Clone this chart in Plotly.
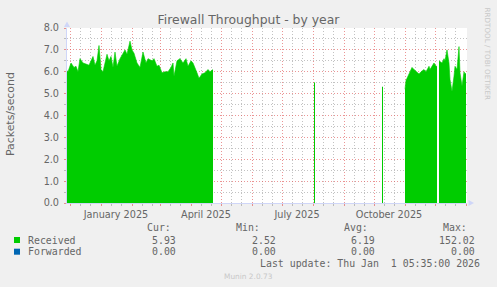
import plotly.graph_objects as go
import pandas as pd

# ---------------- data ----------------
received_dates = [
    "2024-11-27", "2024-11-29", "2024-12-02", "2024-12-05", "2024-12-07", "2024-12-09",
    "2024-12-11", "2024-12-14", "2024-12-17", "2024-12-20", "2024-12-24", "2024-12-26",
    "2024-12-28", "2024-12-30", "2025-01-01", "2025-01-03", "2025-01-07", "2025-01-09",
    "2025-01-11", "2025-01-13", "2025-01-15", "2025-01-17", "2025-01-20", "2025-01-23",
    "2025-01-25", "2025-01-27", "2025-01-30", "2025-02-01", "2025-02-03", "2025-02-06",
    "2025-02-09", "2025-02-12", "2025-02-15", "2025-02-17", "2025-02-21", "2025-02-23",
    "2025-02-26", "2025-02-28", "2025-03-03", "2025-03-06", "2025-03-09", "2025-03-12",
    "2025-03-14", "2025-03-15", "2025-03-18", "2025-03-21", "2025-03-24", "2025-03-27",
    "2025-03-29", "2025-04-01", "2025-04-03", "2025-04-07", "2025-04-09", "2025-04-12",
    "2025-04-15", "2025-04-18", "2025-04-20", "2025-04-23", "2025-04-24",
    "2025-08-02", "2025-08-03", "2025-08-04",
    "2025-10-09", "2025-10-10", "2025-10-11",
    "2025-11-01", "2025-11-02", "2025-11-05", "2025-11-08", "2025-11-10", "2025-11-13",
    "2025-11-15", "2025-11-17", "2025-11-20", "2025-11-22", "2025-11-25", "2025-11-26",
    "2025-11-28", "2025-11-30", "2025-12-02", "2025-12-03", "2025-12-04",
    "2025-12-05", "2025-12-08", "2025-12-10", "2025-12-11", "2025-12-13", "2025-12-15",
    "2025-12-16", "2025-12-18", "2025-12-20", "2025-12-21", "2025-12-23", "2025-12-25",
    "2025-12-26", "2025-12-28", "2025-12-30", "2025-12-31", "2026-01-01",
]
received_values = [
    6.1, 6.0, 6.4, 6.2, 6.25, 6.0,
    6.6, 6.4, 6.35, 6.3, 6.7, 6.3,
    6.5, 7.2, 6.1, 6.0, 6.8, 6.5,
    6.7, 6.2, 6.9, 6.25, 6.6, 6.85,
    7.0, 6.8, 7.4, 7.0, 6.85, 6.4,
    6.2, 6.9, 6.4, 6.6, 6.5, 6.6,
    6.25, 6.3, 5.95, 6.0, 6.0, 6.2,
    6.4, 5.8, 6.5, 6.6, 6.4, 6.6,
    6.25, 6.5, 6.4, 5.95, 5.7, 5.9,
    5.95, 6.1, 6.0, 6.1, None,
    5.5, 5.5, None,
    5.3, 5.3, None,
    5.2, 5.6, 5.9, 6.2, 6.1, 6.0,
    5.9, 6.0, 6.1, 6.0, 6.25, 6.1,
    6.25, 6.4, 6.25, 6.25, None,
    6.5, 6.4, 6.6, 6.5, 7.0, 6.4,
    5.65, 5.1, 5.8, 6.25, 6.1, 7.15,
    5.95, 5.35, 6.0, 5.9, 5.93,
]

series_names = ["Received", "Forwarded"]
series_colors = ["#00CC00", "#0066B3"]
cur_values = ["5.93", "0.00"]
min_values = ["2.52", "0.00"]
avg_values = ["6.19", "0.00"]
max_values = ["152.02", "0.00"]

x_label_dates = ["2025-01-16", "2025-04-16", "2025-07-16", "2025-10-16"]
x_label_text = ["January 2025", "April 2025", "July 2025", "October 2025"]

title_text = "Firewall Throughput - by year"
y_title = "Packets/second"
last_update = "Last update: Thu Jan  1 05:35:00 2026"
footer = "Munin 2.0.73"
side_text = "RRDTOOL / TOBI OETIKER"

x_start, x_end = "2024-11-28 00:00", "2026-01-02 00:00"

# ---------------- layout geometry ----------------
W, H = 497, 287
L, R, T, B = 67, 30, 28, 84
PW, PH = W - L - R, H - T - B

def px(x):
    return (x - L) / PW

def py(y):
    return (H - B - y) / PH

FONT = "DejaVu Sans"
MONO = "DejaVu Sans Mono"
FC = "#666666"
MGRID = "rgba(222,79,79,0.6)"
GRID = "rgba(143,143,143,0.55)"
AXISC = "#CFD6F8"

month_starts = [d.strftime("%Y-%m-%d") for d in pd.date_range("2024-12-01", "2026-01-01", freq="MS")]
minor_days = []
for m in pd.date_range("2024-11-01", "2025-12-01", freq="MS"):
    for off in (10, 20):
        minor_days.append((m + pd.Timedelta(days=off)).strftime("%Y-%m-%d"))

# split the series into its unknown-free segments
segments, cur_x, cur_y = [], [], []
for d, v in zip(received_dates, received_values):
    if v is None:
        if cur_x:
            segments.append((cur_x, cur_y))
        cur_x, cur_y = [], []
    else:
        cur_x.append(d)
        cur_y.append(v)
if cur_x:
    segments.append((cur_x, cur_y))

fig = go.Figure()
for sx, sy in segments:
    fig.add_trace(go.Scatter(
        x=sx, y=sy, mode="lines", fill="tozeroy",
        line=dict(color=series_colors[0], width=0.6), fillcolor=series_colors[0],
        hoverinfo="skip", showlegend=False,
    ))
# dummy trace to attach the label axis
fig.add_trace(go.Scatter(x=[x_label_dates[0]], y=[None], xaxis="x2", yaxis="y",
                         mode="markers", showlegend=False, hoverinfo="skip"))

fig.update_layout(
    width=W, height=H, margin=dict(l=L, r=R, t=T, b=B, autoexpand=False),
    paper_bgcolor="#F0F0F0", plot_bgcolor="#FFFFFF",
    showlegend=False,
    title=dict(text=title_text, x=248.5 / W, xref="container",
               xanchor="center", y=1 - 19.5 / H, yanchor="middle",
               font=dict(family=FONT, size=12.4, color=FC)),
    xaxis=dict(
        type="date", range=[x_start, x_end], tickmode="array", tickvals=month_starts,
        showticklabels=False, ticks="outside", ticklen=2, tickcolor=MGRID,
        showgrid=True, gridcolor=MGRID, griddash="1px,2px", gridwidth=1,
        minor=dict(tickmode="array", tickvals=minor_days, showgrid=True, gridcolor=GRID,
                   griddash="1px,2px", ticks="outside", ticklen=2, tickcolor=GRID),
        showline=True, linecolor=AXISC, linewidth=1, zeroline=False, fixedrange=True,
    ),
    xaxis2=dict(
        type="date", range=[x_start, x_end], overlaying="x", anchor="y", side="bottom",
        tickmode="array", tickvals=x_label_dates, ticktext=x_label_text, ticks="",
        showgrid=False, showline=False, zeroline=False,
        tickfont=dict(family=FONT, size=9.7, color=FC), ticklabelstandoff=4,
    ),
    yaxis=dict(
        range=[0, 8], tickmode="linear", tick0=0, dtick=1, tickformat=".1f",
        tickfont=dict(family=FONT, size=9.7, color=FC),
        ticks="outside", ticklen=2, tickcolor=MGRID,
        showgrid=True, gridcolor=MGRID, griddash="1px,2px", gridwidth=1,
        minor=dict(dtick=0.5, showgrid=True, gridcolor=GRID, griddash="1px,2px",
                   ticks="outside", ticklen=2, tickcolor=GRID),
        showline=True, linecolor=AXISC, linewidth=1, zeroline=False, fixedrange=True,
        ticklabelstandoff=3,
    ),
)

ann = []
ann.append(dict(text=y_title, x=px(10.5), y=py(114.5), xref="paper", yref="paper",
                textangle=-90, showarrow=False, xanchor="center", yanchor="middle",
                font=dict(family=FONT, size=10.9, color=FC)))
ann.append(dict(text=side_text, x=px(487), y=py(53.5), xref="paper", yref="paper",
                textangle=90, showarrow=False, xanchor="center", yanchor="middle",
                font=dict(family=FONT, size=7.2, color="#C8C8C8")))
ann.append(dict(text=footer, x=px(248), y=py(276), xref="paper", yref="paper",
                showarrow=False, xanchor="center", yanchor="middle",
                font=dict(family=FONT, size=7.4, color="#C8C8C8")))

mono = dict(family=MONO, size=9.9, color=FC)
def text_at(s, xr, yc, anchor="right"):
    ann.append(dict(text=s, x=px(xr), y=py(yc), xref="paper", yref="paper",
                    showarrow=False, xanchor=anchor, yanchor="middle", font=mono))

# header row
for s, xr in zip(["Cur:", "Min:", "Avg:", "Max:"], [173, 262, 370, 469]):
    text_at(s, xr, 227)
row_y = [240, 251.7]
val_x = [177.7, 277.7, 377, 476.7]
shapes = []
for i, name in enumerate(series_names):
    text_at(name, 26, row_y[i], anchor="left")
    for col, xr in zip([cur_values, min_values, avg_values, max_values], val_x):
        text_at(col[i], xr, row_y[i])
    shapes.append(dict(type="rect", xref="paper", yref="paper",
                       x0=px(14), x1=px(20), y0=py(row_y[i] + 3), y1=py(row_y[i] - 3),
                       fillcolor=series_colors[i], line=dict(width=0)))
text_at(last_update, 482, 263.3)

# axis arrows
shapes.append(dict(type="path", xref="paper", yref="paper",
                   path=f"M {px(64)} {py(27)} L {px(67)} {py(21.5)} L {px(70)} {py(27)} Z",
                   fillcolor=AXISC, line=dict(width=0)))
shapes.append(dict(type="path", xref="paper", yref="paper",
                   path=f"M {px(468.5)} {py(200)} L {px(474)} {py(203)} L {px(468.5)} {py(206)} Z",
                   fillcolor=AXISC, line=dict(width=0)))

fig.update_layout(annotations=ann, shapes=shapes)
fig.write_html("out.html")
